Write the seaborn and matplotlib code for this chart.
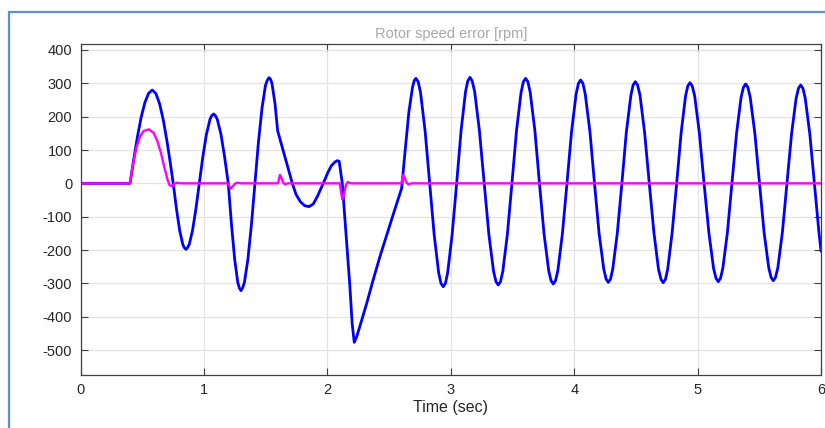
import numpy as np
import pandas as pd
import seaborn as sns
import matplotlib.pyplot as plt
from matplotlib.patches import Rectangle

# rotor speed error (blue)
t_err = [0.0, 0.4, 0.43, 0.46, 0.49, 0.52, 0.55, 0.58, 0.61, 0.64, 0.67, 0.70, 0.725, 0.75,
         0.776, 0.802, 0.828, 0.84, 0.853, 0.866, 0.88, 0.907, 0.934, 0.961,
         0.99, 1.019, 1.048, 1.062, 1.077, 1.092, 1.107, 1.137, 1.166, 1.196,
         1.222, 1.248, 1.273, 1.286, 1.299, 1.312, 1.327, 1.355, 1.384, 1.412,
         1.44, 1.469, 1.497, 1.512, 1.526, 1.538, 1.55, 1.575, 1.596, 1.63, 1.67, 1.715,
         1.745, 1.78, 1.815, 1.85, 1.885, 1.92, 1.966, 2.0, 2.03, 2.06, 2.08, 2.095,
         2.12, 2.15, 2.18, 2.20, 2.217, 2.235, 2.26, 2.318, 2.37, 2.425, 2.48, 2.54, 2.601,
         2.63, 2.66, 2.69, 2.704, 2.717, 2.735,
         2.754, 2.791, 2.828, 2.865, 2.901, 2.920, 2.938, 2.956,
         2.974, 3.010, 3.047, 3.083, 3.119, 3.137, 3.155, 3.173,
         3.193, 3.231, 3.270, 3.308, 3.346, 3.366, 3.384, 3.402,
         3.421, 3.458, 3.495, 3.532, 3.569, 3.588, 3.606, 3.624,
         3.643, 3.681, 3.718, 3.755, 3.793, 3.812, 3.830, 3.848,
         3.867, 3.904, 3.941, 3.978, 4.015, 4.034, 4.052, 4.070,
         4.089, 4.127, 4.164, 4.201, 4.239, 4.258, 4.276, 4.294,
         4.312, 4.349, 4.386, 4.422, 4.459, 4.477, 4.495, 4.513,
         4.533, 4.570, 4.608, 4.646, 4.683, 4.703, 4.721, 4.739,
         4.757, 4.793, 4.830, 4.866, 4.902, 4.920, 4.938, 4.956,
         4.976, 5.014, 5.052, 5.091, 5.129, 5.149, 5.167, 5.185,
         5.204, 5.241, 5.278, 5.315, 5.352, 5.371, 5.389, 5.407,
         5.426, 5.464, 5.501, 5.538, 5.576, 5.595, 5.613, 5.631,
         5.650, 5.687, 5.724, 5.761, 5.798, 5.817, 5.835, 5.853,
         5.872, 5.909, 5.946, 5.983, 6.0]
v_err = [0, 0, 72, 140, 198, 242, 270, 280, 269, 238, 189, 125, 64, 0,
         -76, -141, -184, -193, -198, -193, -183, -140, -76, 0,
         80, 147, 192, 203, 208, 203, 192, 147, 80, 0,
         -123, -228, -297, -314, -322, -314, -297, -228, -123, 0,
         121, 224, 293, 309, 317, 313, 300, 239, 158, 113, 60, 0,
         -33, -55, -67, -70, -62, -38, 0, 30, 52, 64, 68, 66,
         0, -150, -300, -420, -477, -462, -432, -360, -290, -220, -155, -85, -15,
         100, 215, 290, 309, 315, 305,
         273, 158, 0, -155, -268, -300, -310, -300,
         -268, -155, 0, 159, 275, 307, 318, 307,
         275, 159, 0, -153, -264, -295, -305, -295,
         -264, -153, 0, 158, 273, 305, 315, 305,
         273, 158, 0, -151, -262, -292, -302, -292,
         -262, -151, 0, 155, 268, 300, 310, 300,
         268, 155, 0, -149, -257, -287, -297, -287,
         -257, -149, 0, 153, 264, 295, 305, 295,
         264, 153, 0, -149, -258, -288, -298, -288,
         -258, -149, 0, 151, 262, 292, 302, 292,
         262, 151, 0, -148, -255, -285, -295, -285,
         -255, -148, 0, 149, 258, 288, 298, 288,
         258, 149, 0, -146, -253, -282, -292, -282,
         -253, -146, 0, 148, 255, 285, 295, 285,
         255, 148, 0, -147, -204]

# second trace (magenta)
t_ref = [0.0, 0.4, 0.42, 0.45, 0.48, 0.51, 0.553, 0.59, 0.62, 0.65, 0.68, 0.705, 0.72, 0.735,
         0.755, 0.78, 0.81,
         1.19, 1.205, 1.218, 1.235, 1.25, 1.27, 1.30,
         1.60, 1.608, 1.615, 1.625, 1.64, 1.655, 1.68,
         2.10, 2.11, 2.12, 2.135, 2.15, 2.165, 2.19,
         2.60, 2.607, 2.614, 2.625, 2.64, 2.655, 2.68, 6.0]
v_ref = [0, 0, 50, 105, 140, 157, 162, 152, 128, 92, 45, 10, -5, -8,
         -3, 2, 0,
         0, -8, -15, -8, -1, 2, 0,
         0, 15, 25, 18, 3, -3, 0,
         0, -25, -48, -30, -5, 4, 0,
         0, 15, 25, 18, 3, -3, 0, 0]

y_ticks = [-500, -400, -300, -200, -100, 0, 100, 200, 300, 400]
x_ticks = [0, 1, 2, 3, 4, 5, 6]

sns.set_style("whitegrid", {"grid.color": "#e3e3e3", "axes.edgecolor": "#404040"})
plt.rcParams['font.family'] = ['Liberation Sans', 'DejaVu Sans']
plt.rcParams['axes.unicode_minus'] = False

fig = plt.figure(figsize=(8.25, 4.28), dpi=100)
ax = fig.add_axes([0.0978, 0.1238, 0.8974, 0.7734])

df_err = pd.DataFrame({"t": t_err, "v": v_err})
df_ref = pd.DataFrame({"t": t_ref, "v": v_ref})
sns.lineplot(data=df_err, x="t", y="v", color="#0000ff", linewidth=2.0, ax=ax)
sns.lineplot(data=df_ref, x="t", y="v", color="#ff00ff", linewidth=1.7, ax=ax)

ax.set_xlim(0, 6)
ax.set_ylim(-575, 418)
ax.set_xticks(x_ticks)
ax.set_yticks(y_ticks)
ax.tick_params(direction="in", length=5, width=0.8, color="#404040", labelsize=10.5,
               labelcolor="#262626", top=True, right=True, left=True, bottom=True, pad=6)
for s in ax.spines.values():
    s.set_linewidth(0.9)
    s.set_color("#404040")
ax.grid(True, linewidth=0.9)
ax.set_xlabel("Time (sec)", fontsize=11.5, labelpad=2)
ax.set_ylabel("")
ax.set_title("Rotor speed error [rpm]", fontsize=10.5, color="#a8a8a8", pad=4)

# blue frame around the scope window
fig.patches.append(Rectangle((9 / 825, -0.2), 1.2, 1.2 - 12 / 428,
                             transform=fig.transFigure, fill=False,
                             edgecolor="#5b8fd0", linewidth=1.6))

fig.savefig("out.png", dpi=100)
